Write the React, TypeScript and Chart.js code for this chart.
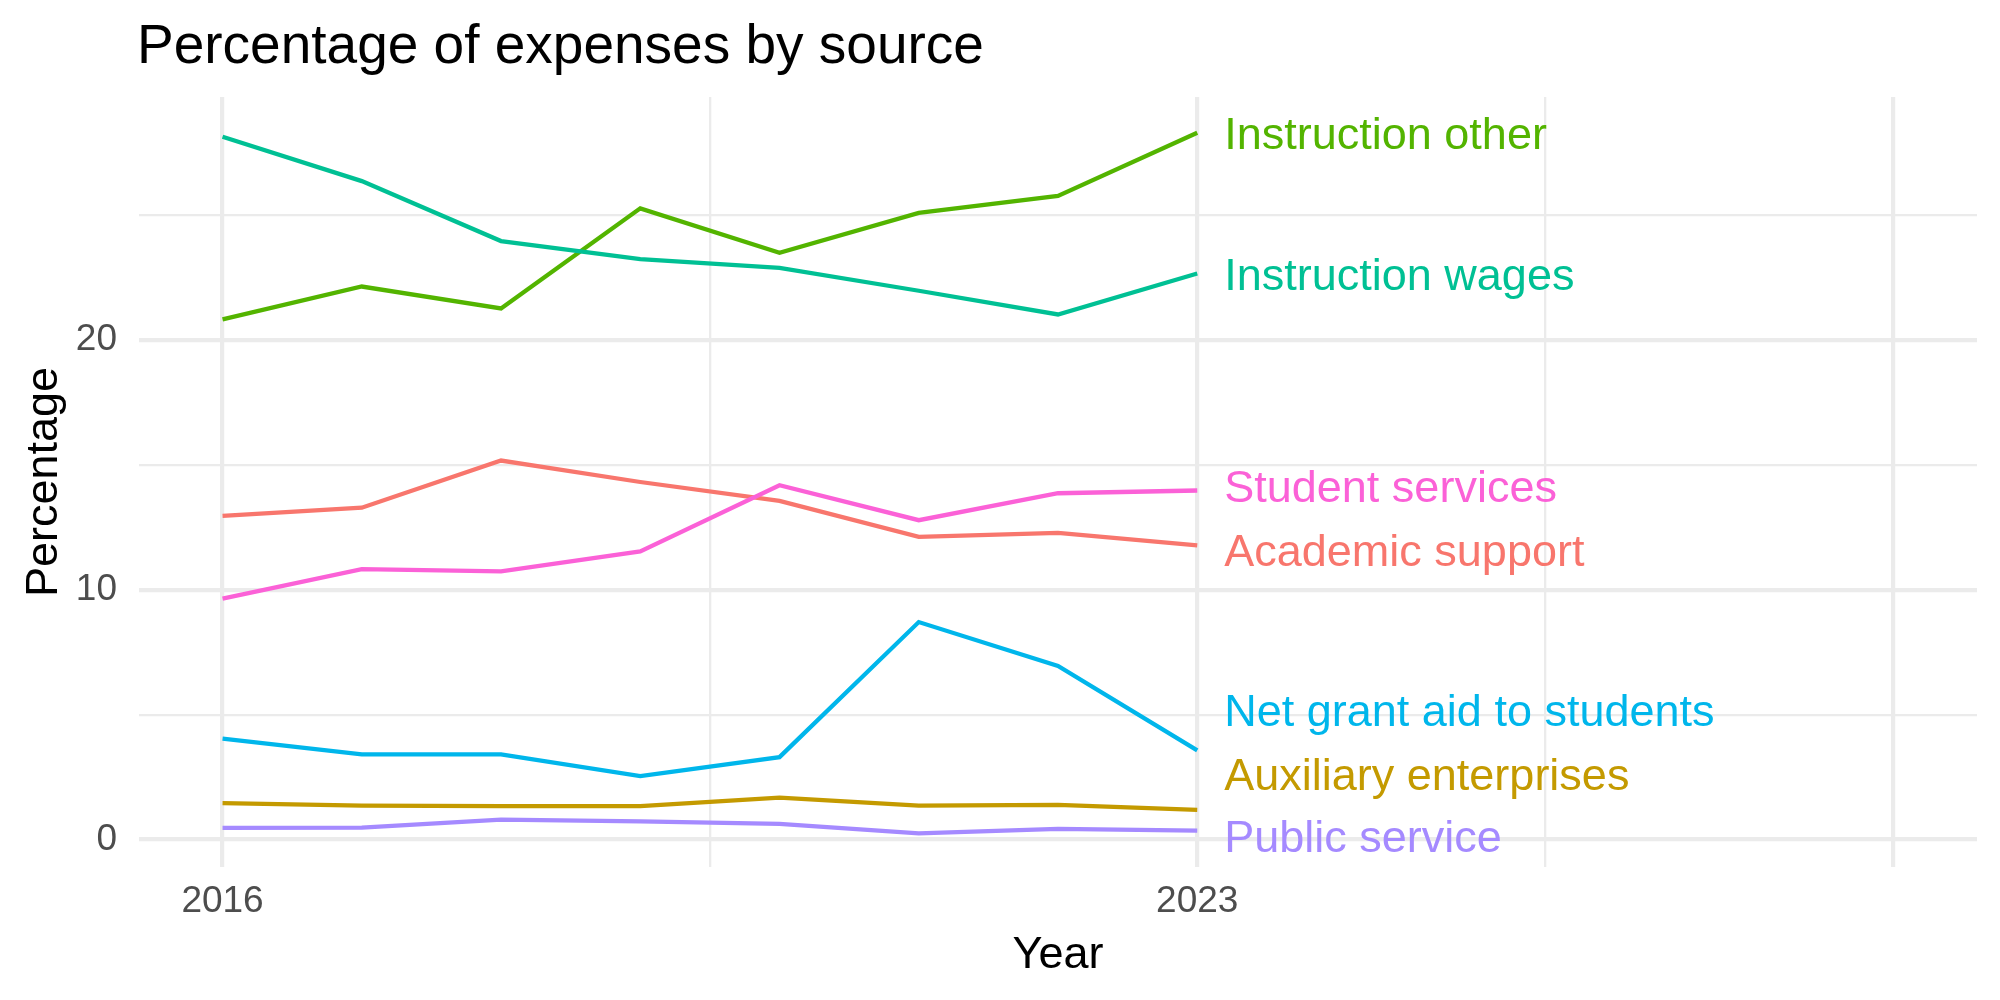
import React, { useEffect, useRef } from "react";
import { Chart, registerables } from "chart.js";

Chart.register(...registerables);

// ---- Data ----
const years = [2016, 2017, 2018, 2019, 2020, 2021, 2022, 2023];

const seriesNames = [
  "Academic support",
  "Auxiliary enterprises",
  "Instruction other",
  "Instruction wages",
  "Net grant aid to students",
  "Public service",
  "Student services",
];

const academicSupport = [12.96, 13.29, 15.18, 14.32, 13.56, 12.12, 12.28, 11.78];
const auxiliaryEnterprises = [1.46, 1.36, 1.34, 1.34, 1.68, 1.36, 1.39, 1.19];
const instructionOther = [20.83, 22.15, 21.27, 25.28, 23.5, 25.1, 25.78, 28.31];
const instructionWages = [28.15, 26.37, 23.97, 23.25, 22.9, 21.98, 21.03, 22.67];
const netGrantAid = [4.04, 3.41, 3.41, 2.54, 3.3, 8.71, 6.95, 3.57];
const publicService = [0.47, 0.48, 0.8, 0.73, 0.63, 0.25, 0.43, 0.36];
const studentServices = [9.65, 10.83, 10.74, 11.54, 14.19, 12.79, 13.87, 13.98];

const seriesValues = [
  academicSupport,
  auxiliaryEnterprises,
  instructionOther,
  instructionWages,
  netGrantAid,
  publicService,
  studentServices,
];

// label positions (repelled text positions at end of series)
const labelYear = 2023;
const labelY = [11.59, 2.62, 28.29, 22.65, 5.17, 0.14, 14.16];

const seriesColors = ["#F8766D", "#C49A00", "#53B400", "#00C094", "#00B6EB", "#A58AFF", "#FB61D7"];

// axis ticks
const xMajorTicks = [2016, 2023, 2028];
const xMinorTicks = [2019.5, 2025.5];
const xTickLabels = [2016, 2023];
const yMajorTicks = [0, 10, 20];
const yMinorTicks = [5, 15, 25];

const titleText = "Percentage of expenses by source";
const xTitle = "Year";
const yTitle = "Percentage";

const FONT = "'Liberation Sans', Arial, Helvetica, sans-serif";

export default function App() {
  const ref = useRef<HTMLCanvasElement>(null);

  useEffect(() => {
    document.body.style.margin = "0";
    const canvas = ref.current!;

    const textPlugin = {
      id: "textPlugin",
      afterDraw(chart: any) {
        const ctx = chart.ctx as CanvasRenderingContext2D;
        const xs = chart.scales.x;
        const ys = chart.scales.y;
        const area = chart.chartArea;
        ctx.save();
        // title
        ctx.fillStyle = "#000000";
        ctx.font = `55px ${FONT}`;
        ctx.textAlign = "left";
        ctx.textBaseline = "alphabetic";
        ctx.fillText(titleText, 137, 63);
        // x title
        ctx.font = `45px ${FONT}`;
        ctx.textAlign = "center";
        ctx.fillText(xTitle, (area.left + area.right) / 2, 968);
        // y title
        ctx.save();
        ctx.translate(57, (area.top + area.bottom) / 2);
        ctx.rotate(-Math.PI / 2);
        ctx.textAlign = "center";
        ctx.fillText(yTitle, 0, 0);
        ctx.restore();
        // series labels
        ctx.font = `45px ${FONT}`;
        ctx.textAlign = "left";
        const lx = xs.getPixelForValue(labelYear) + 27;
        seriesNames.forEach((name, i) => {
          ctx.fillStyle = seriesColors[i];
          ctx.fillText(name, lx, ys.getPixelForValue(labelY[i]) + 16);
        });
        ctx.restore();
      },
    };

    const datasets = seriesNames
      .map((name, i) => ({
        label: name,
        data: years.map((yr, j) => ({ x: yr, y: seriesValues[i][j] })),
        borderColor: seriesColors[i],
        backgroundColor: seriesColors[i],
        borderWidth: 4.3,
        pointRadius: 0,
        tension: 0,
        fill: false,
      }))
      .reverse();

    const xAll = [...xMajorTicks, ...xMinorTicks].sort((a, b) => a - b);
    const yAll = [...yMajorTicks, ...yMinorTicks].sort((a, b) => a - b);

    const chart = new Chart(canvas, {
      type: "line",
      data: { datasets },
      plugins: [textPlugin],
      options: {
        animation: false,
        responsive: false,
        devicePixelRatio: 1,
        layout: { padding: { top: 97, right: 23, left: 0, bottom: 0 } },
        plugins: {
          legend: { display: false },
          title: { display: false },
          tooltip: { enabled: false },
        },
        scales: {
          x: {
            type: "linear",
            min: 2015.4,
            max: 2028.6,
            afterBuildTicks: (scale: any) => {
              scale.ticks = xAll.map((v) => ({ value: v }));
            },
            afterFit: (scale: any) => {
              scale.height = 133;
            },
            border: { display: false },
            grid: {
              color: "#EBEBEB",
              drawTicks: false,
              lineWidth: (c: any) => (xMajorTicks.includes(c.tick?.value) ? 4.2 : 2.3),
            },
            ticks: {
              autoSkip: false,
              maxRotation: 0,
              minRotation: 0,
              padding: 13,
              color: "#4D4D4D",
              font: { family: FONT, size: 37, lineHeight: 1.2 },
              callback: (v: any) => (xTickLabels.includes(Number(v)) ? String(v) : ""),
            },
          },
          y: {
            type: "linear",
            min: -1.1,
            max: 29.74,
            afterBuildTicks: (scale: any) => {
              scale.ticks = yAll.map((v) => ({ value: v }));
            },
            afterFit: (scale: any) => {
              scale.width = 139;
            },
            border: { display: false },
            grid: {
              color: "#EBEBEB",
              drawTicks: false,
              lineWidth: (c: any) => (yMajorTicks.includes(c.tick?.value) ? 4.2 : 2.3),
            },
            ticks: {
              autoSkip: false,
              padding: 22,
              color: "#4D4D4D",
              font: { family: FONT, size: 37, lineHeight: 1.2 },
              callback: (v: any) => (yMajorTicks.includes(Number(v)) ? String(v) : ""),
            },
          },
        },
      } as any,
    });

    return () => chart.destroy();
  }, []);

  return (
    <canvas
      ref={ref}
      width={2000}
      height={1000}
      style={{ display: "block", width: "2000px", height: "1000px" }}
    />
  );
}
